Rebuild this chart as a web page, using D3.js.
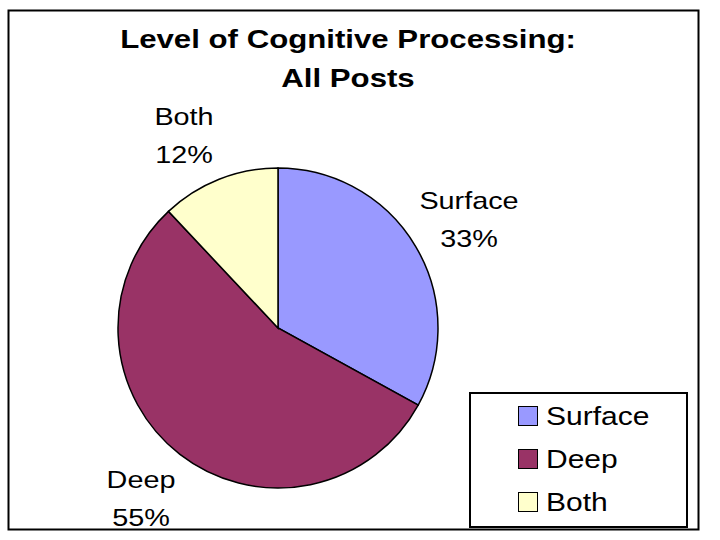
<!DOCTYPE html>
<html><head><meta charset="utf-8">
<script src="https://cdn.jsdelivr.net/npm/d3@7"></script>
<style>body{margin:0;background:#fff}svg{display:block}text{font-family:"Liberation Sans",Arial,sans-serif}</style>
</head><body><svg id="c" width="720" height="540"></svg>
<script>
const categories = ["Surface", "Deep", "Both"];
const values = [33, 55, 12];
const colors = ["#9999FF", "#993366", "#FFFFCC"];
const titleLines = ["Level of Cognitive Processing:", "All Posts"];

const SX = 1.2; // horizontal stretch of the original rendering
const svg = d3.select("#c");
function stext(sel, x, y, str, size, anchor, weight) {
  return sel.append("text")
    .attr("transform", `translate(${x},${y}) scale(${SX},1)`)
    .attr("text-anchor", anchor || "start")
    .attr("font-size", size)
    .attr("font-weight", weight || "normal")
    .text(str);
}

svg.append("rect").attr("x", 8.5).attr("y", 10.5).attr("width", 690).attr("height", 519)
  .attr("fill", "#fff").attr("stroke", "#000").attr("stroke-width", 2);

titleLines.forEach((t, i) => stext(svg, 348, 48 + i * 39, t, 26, "middle", "bold"));

const cx = 278, cy = 328, r = 160;
const pie = d3.pie().sort(null).value(d => d);
const arc = d3.arc().innerRadius(0).outerRadius(r);
const g = svg.append("g").attr("transform", `translate(${cx},${cy})`);
g.selectAll("path").data(pie(values)).join("path")
  .attr("d", arc).attr("fill", (d, i) => colors[i]).attr("stroke", "#000").attr("stroke-width", 1.5);

// data labels
const labelPos = [[469, 209], [141, 488], [184, 125]];
categories.forEach((c, i) => {
  stext(svg, labelPos[i][0], labelPos[i][1], c, 24, "middle");
  stext(svg, labelPos[i][0], labelPos[i][1] + 38, values[i] + "%", 24, "middle");
});

// legend
const lg = svg.append("g");
lg.append("rect").attr("x", 470).attr("y", 393).attr("width", 217).attr("height", 134)
  .attr("fill", "#fff").attr("stroke", "#000").attr("stroke-width", 2);
categories.forEach((c, i) => {
  const y = 416 + i * 43;
  lg.append("rect").attr("x", 518.5).attr("y", y - 9.5).attr("width", 19).attr("height", 19)
    .attr("fill", colors[i]).attr("stroke", "#000").attr("stroke-width", 1);
  stext(lg, 546, y + 9, c, 25);
});
</script></body></html>
